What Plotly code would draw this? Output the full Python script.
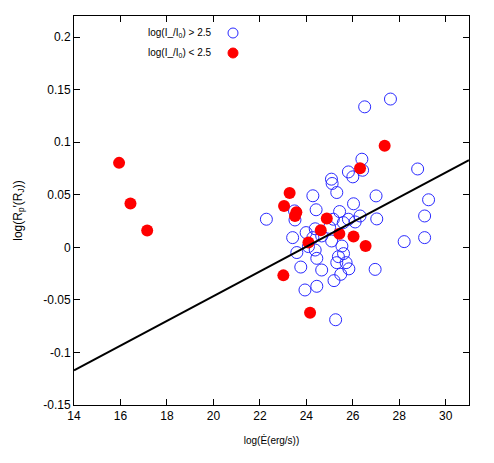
import numpy as np
import plotly.graph_objects as go

# log(I/I0) > 2.5  (open blue circles)
edot_high = [27.62, 26.51, 26.39, 26.42, 25.81, 26.00, 28.79, 25.08, 25.11, 25.31,
             24.28, 27.00, 29.26, 26.03, 24.42, 25.43, 23.49, 23.51, 22.28, 29.09,
             27.03, 26.31, 25.81, 26.10, 25.59, 25.16, 24.38, 23.99, 23.41, 24.28,
             24.66, 25.09, 29.09, 28.21, 24.09, 25.53, 24.38, 23.59, 25.60, 25.38,
             24.45, 25.31, 25.71, 23.76, 25.83, 24.66, 26.96, 25.48, 25.19, 24.45,
             23.94, 25.26, 25.00]
rp_high = [0.141, 0.1336, 0.0838, 0.0733, 0.0717, 0.067, 0.0745, 0.0648, 0.0607, 0.0521,
           0.049, 0.0489, 0.0452, 0.0414, 0.0357, 0.034, 0.0346, 0.026, 0.0267, 0.0298,
           0.027, 0.0298, 0.0267, 0.0241, 0.0235, 0.0267, 0.0176, 0.014, 0.0092, 0.0092,
           0.0108, 0.006, 0.0092, 0.0054, 0.0007, 0.0012, -0.0026, -0.005, -0.006, -0.0089,
           -0.0105, -0.0146, -0.0146, -0.0188, -0.0205, -0.0216, -0.021, -0.0257, -0.0317, -0.0371,
           -0.0406, -0.0689, 0.019]

# log(I/I0) < 2.5  (filled red circles)
edot_low = [15.94, 16.43, 17.15, 23.28, 23.04, 23.57, 23.51, 24.88, 24.62, 25.42,
            26.03, 26.55, 24.09, 23.01, 24.16, 26.31, 27.37]
rp_low = [0.0803, 0.0416, 0.0159, 0.0517, 0.0393, 0.0333, 0.0298, 0.0273, 0.0162, 0.0129,
          0.0102, 0.0012, 0.0045, -0.0267, -0.0622, 0.0752, 0.0965]

# linear fit  log(Rp) = a + b*log(Edot)
fit_a = -0.2817
fit_b = 0.01176
fit_x = [14, 31]

x_ticks = [14, 16, 18, 20, 22, 24, 26, 28, 30]
y_ticks = [-0.15, -0.1, -0.05, 0, 0.05, 0.1, 0.15, 0.2]
y_ticklabels = ['-0.15', '-0.1', '-0.05', '0', '0.05', '0.1', '0.15', '0.2']

leg_text = ['log(I_/I<sub>0</sub>) &gt; 2.5', 'log(I_/I<sub>0</sub>) &lt; 2.5']

FONT = 'Liberation Sans, Arial, sans-serif'
BLUE = '#2a2aff'
RED = '#ff0000'

fig = go.Figure()
fig.add_trace(go.Scatter(
    x=edot_high, y=rp_high, mode='markers',
    marker=dict(symbol='circle-open', size=12, color=BLUE, line=dict(width=1)),
))
fig.add_trace(go.Scatter(
    x=edot_low, y=rp_low, mode='markers',
    marker=dict(symbol='circle', size=12, color=RED),
))
fx = np.array(fit_x, dtype=float)
fig.add_trace(go.Scatter(
    x=fx, y=fit_a + fit_b * fx, mode='lines',
    line=dict(color='black', width=2),
))

axis_common = dict(
    showgrid=False, zeroline=False, showline=True, mirror='ticks',
    linecolor='black', linewidth=1, ticks='inside', ticklen=6,
    tickcolor='black', tickfont=dict(family=FONT, size=12, color='black'),
)

# the page body keeps an 8px margin, so the figure div is 478x447 at (8, 8)
OFF = 8
W, H = 494 - 2 * OFF, 463 - 2 * OFF
L, R, T, B = 66, 17, 8, 50
pw, ph = W - L - R, H - T - B
leg_y = [33, 53]

def px_to_paper(px, py):
    # page pixel -> paper fraction
    return (px - OFF - L) / pw, 1 - (py - OFF - T) / ph

annos = []
shapes = []
for i, (txt, py) in enumerate(zip(leg_text, leg_y)):
    ax, ay = px_to_paper(214, py)
    annos.append(dict(x=ax, y=ay, xref='paper', yref='paper', text=txt,
                      showarrow=False, xanchor='right', yanchor='middle',
                      font=dict(family=FONT, size=10, color='black')))
    cx0, cy0 = px_to_paper(228, py - 5)
    cx1, cy1 = px_to_paper(238, py + 5)
    if i == 0:
        shapes.append(dict(type='circle', xref='paper', yref='paper',
                           x0=cx0, y0=cy1, x1=cx1, y1=cy0,
                           line=dict(color=BLUE, width=1)))
    else:
        shapes.append(dict(type='circle', xref='paper', yref='paper',
                           x0=cx0, y0=cy1, x1=cx1, y1=cy0,
                           line=dict(color=RED, width=1), fillcolor=RED))

fig.update_layout(
    margin=dict(l=L, r=R, t=T, b=B, autoexpand=False),
    plot_bgcolor='white', paper_bgcolor='white',
    showlegend=False,
    font=dict(family=FONT, color='black'),
    xaxis=dict(range=[14, 31], tickvals=x_ticks, title=dict(
        text='log(Ė(erg/s))', font=dict(size=10), standoff=14), **axis_common),
    yaxis=dict(range=[-0.15, 0.22], tickvals=y_ticks, ticktext=y_ticklabels,
               title=dict(text='log(R<sub>p</sub>′(R<sub>J</sub>))', font=dict(size=12),
                          standoff=18), **axis_common),
    annotations=annos,
    shapes=shapes,
)

fig.write_html('out.html')
